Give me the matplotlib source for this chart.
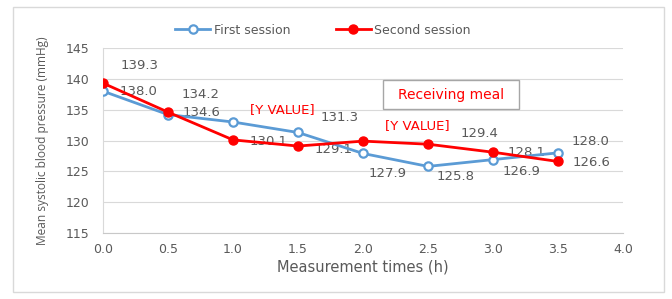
import matplotlib.pyplot as plt
from matplotlib.patches import Rectangle

# measurement times (h) and mean systolic BP for both sessions
times = [0.0, 0.5, 1.0, 1.5, 2.0, 2.5, 3.0, 3.5]
first = [138.0, 134.2, 133.0, 131.3, 127.9, 125.8, 126.9, 128.0]
second = [139.3, 134.6, 130.1, 129.1, 129.9, 129.4, 128.1, 126.6]

first_labels = ["138.0", "134.6", "[Y VALUE]", "131.3", "127.9", "125.8", "126.9", "128.0"]
second_labels = ["139.3", "134.2", "130.1", "129.1", "[Y VALUE]", "129.4", "128.1", "126.6"]
# label offsets (data units) from each point
first_off = [(0.27, -0.1), (0.26, 0.3), (0.38, 2.1), (0.32, 2.5), (0.19, -3.3), (0.21, -1.7), (0.22, -2.0), (0.25, 1.8)]
second_off = [(0.28, 2.9), (0.25, 2.8), (0.27, -0.2), (0.27, -0.5), (0.42, 2.6), (0.4, 1.8), (0.26, 0.0), (0.26, -0.1)]

plt.rcParams['font.family'] = ['DejaVu Sans']
grey = '#595959'
blue = '#5B9BD5'
red = '#FF0000'

fig = plt.figure(figsize=(6.72, 2.99), dpi=100)
fig.patches.append(Rectangle((13 / 672, 1 - 292 / 299), 651 / 672, 285 / 299,
                             transform=fig.transFigure, fill=False,
                             edgecolor='#d9d9d9', linewidth=1))
ax = fig.add_axes([103 / 672, 1 - 233 / 299, 520 / 672, 185 / 299])

ax.plot(times, first, color=blue, linewidth=2, marker='o', markersize=6,
        markerfacecolor='white', markeredgecolor=blue, markeredgewidth=1.6,
        label='First session', zorder=3)
ax.plot(times, second, color=red, linewidth=2, marker='o', markersize=6.5,
        markerfacecolor=red, markeredgecolor=red, label='Second session', zorder=4)

for x, y, t, (dx, dy) in zip(times, first, first_labels, first_off):
    c = red if t.startswith('[') else grey
    ax.text(x + dx, y + dy, t, ha='center', va='center', fontsize=9.5, color=c, zorder=2)
for x, y, t, (dx, dy) in zip(times, second, second_labels, second_off):
    c = red if t.startswith('[') else grey
    ax.text(x + dx, y + dy, t, ha='center', va='center', fontsize=9.5, color=c, zorder=2)

# "Receiving meal" box
ax.add_patch(Rectangle((2.15, 135.1), 1.05, 4.7, facecolor='white',
                       edgecolor='#a6a6a6', linewidth=1, zorder=5))
ax.text(2.675, 137.45, 'Receiving meal', ha='center', va='center', fontsize=10,
        color=red, zorder=6)

ax.set_xlim(0, 4)
ax.set_ylim(115, 145)
ax.set_xticks([0.0, 0.5, 1.0, 1.5, 2.0, 2.5, 3.0, 3.5, 4.0])
ax.set_xticklabels([f"{v:.1f}" for v in ax.get_xticks()])
ax.set_yticks(range(115, 146, 5))
ax.grid(axis='y', color='#d9d9d9', linewidth=0.8)
ax.set_axisbelow(True)
for s in ['top', 'right']:
    ax.spines[s].set_visible(False)
ax.spines['left'].set_color('#d9d9d9')
ax.spines['bottom'].set_color('#c8c8c8')
ax.tick_params(length=0, colors=grey, labelsize=9)
ax.tick_params(axis='y', pad=10)
ax.tick_params(axis='x', pad=7)

ax.set_xlabel('Measurement times (h)', fontsize=10.5, color=grey, labelpad=3)
ax.set_ylabel('Mean systolic blood pressure (mmHg)', fontsize=8.6, color=grey,
              labelpad=12, family='Open Sans')

fig.legend(loc='center', bbox_to_anchor=(323 / 672, 1 - 30 / 299), ncol=2, frameon=False,
           fontsize=9, labelcolor=grey, handlelength=2.8, handletextpad=0.3,
           columnspacing=3.6)

fig.savefig('out.png', dpi=100)
